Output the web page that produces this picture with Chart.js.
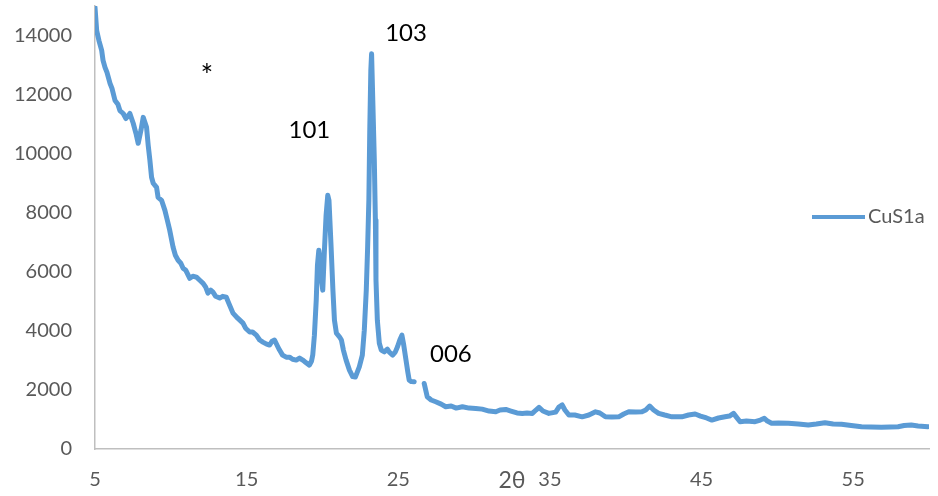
<!DOCTYPE html>
<html>
<head>
<meta charset="utf-8">
<script src="https://cdn.jsdelivr.net/npm/chart.js@4/dist/chart.umd.min.js"></script>
<style>
  html, body { margin: 0; padding: 0; background: #fff; }
  #wrap { width: 938px; height: 496px; }
</style>
</head>
<body>
<div id="wrap"><canvas id="xrd" width="938" height="496"></canvas></div>
<script>
// XRD pattern of sample CuS1a: diffraction angle (2θ, degrees) and intensity (counts)
const seriesName = 'CuS1a';
const twoTheta = [
  5.00, 5.11, 5.26, 5.44, 5.53, 5.66, 5.79, 5.99, 6.12, 6.32, 6.51, 6.64, 6.86, 7.04, 7.30, 7.52, 7.70, 7.85,
  8.03, 8.18, 8.40, 8.51, 8.62, 8.73, 8.84, 9.06, 9.16, 9.39, 9.61, 9.77, 9.93, 10.15, 10.30, 10.48, 10.66,
  10.81, 10.99, 11.25, 11.45, 11.69, 11.91, 12.13, 12.30, 12.45, 12.63, 12.78, 12.96, 13.22, 13.42, 13.66,
  13.82, 14.10, 14.41, 14.76, 14.93, 15.20, 15.39, 15.64, 15.86, 16.07, 16.32, 16.51, 16.68, 16.84, 17.04,
  17.17, 17.37, 17.61, 17.83, 18.03, 18.27, 18.49, 18.70, 18.88, 19.14, 19.28, 19.36, 19.47, 19.59, 19.67,
  19.76, 19.84, 19.90, 20.02, 20.13, 20.24, 20.35, 20.43, 20.57, 20.69, 20.79, 20.92, 21.12, 21.25, 21.38,
  21.56, 21.78, 21.99, 22.17, 22.43, 22.63, 22.76, 22.89, 22.98, 23.06, 23.12, 23.19, 23.24, 23.32, 23.42,
  23.49, 23.53, 23.62, 23.75, 23.88, 24.08, 24.28, 24.41, 24.63, 24.80, 24.95, 25.10, 25.24, 25.36, 25.51,
  25.63, 25.72, 25.86, 26.05, 26.30, 26.71, 26.91, 27.17, 27.47, 27.83, 28.13, 28.49, 28.82, 29.23, 29.67,
  30.11, 30.53, 30.99, 31.43, 31.71, 32.09, 32.43, 32.83, 33.18, 33.49, 33.84, 34.08, 34.28, 34.54, 34.93,
  35.38, 35.59, 35.81, 35.99, 36.25, 36.64, 37.13, 37.57, 38.01, 38.29, 38.66, 39.08, 39.54, 39.87, 40.20,
  40.66, 41.07, 41.32, 41.58, 41.84, 42.17, 42.57, 43.05, 43.70, 44.14, 44.58, 44.93, 45.33, 45.68, 46.12,
  46.55, 46.84, 47.11, 47.30, 47.54, 47.96, 48.53, 48.88, 49.14, 49.34, 49.62, 50.07, 50.72, 51.38, 52.04,
  52.57, 53.14, 53.68, 54.23, 54.87, 55.55, 56.18, 56.86, 57.43, 57.96, 58.36, 58.83, 59.28, 59.93
];
const intensity = [
  14950, 14170, 13830, 13500, 13160, 12920, 12750, 12380, 12210, 11800, 11670, 11460, 11360, 11190, 11360, 11030, 10690, 10350,
  10790, 11230, 10890, 10280, 9775, 9200, 9000, 8860, 8520, 8420, 8080, 7745, 7400, 6830, 6560, 6390, 6290,
  6120, 6050, 5780, 5850, 5820, 5715, 5610, 5480, 5280, 5380, 5310, 5170, 5110, 5170, 5140,
  4940, 4600, 4430, 4260, 4090, 3960, 3960, 3855, 3690, 3620, 3550, 3520, 3650, 3690, 3480,
  3350, 3180, 3110, 3110, 3040, 3010, 3080, 3010, 2940, 2840, 2980, 3180, 3855, 5040, 6220,
  6730, 6460, 5885, 5380, 6730, 7915, 8590, 8420, 6840, 5380, 4360, 3920, 3800, 3690, 3350,
  3010, 2670, 2450, 2435, 2780, 3180, 4025, 5380, 6840, 8420, 10790, 12820, 13380, 11800, 9775,
  7745, 5720, 4360, 3580, 3350, 3290, 3380, 3280, 3180, 3280, 3460, 3690, 3855, 3520, 3010,
  2600, 2330, 2285, 2275, null, 2220, 1770, 1660, 1600, 1520, 1430, 1455, 1385, 1430, 1385,
  1375, 1350, 1285, 1260, 1320, 1340, 1285, 1220, 1205, 1220, 1205, 1320, 1410, 1285, 1205,
  1250, 1420, 1490, 1320, 1150, 1150, 1090, 1150, 1260, 1220, 1090, 1080, 1090, 1185, 1260,
  1250, 1260, 1320, 1455, 1320, 1205, 1150, 1090, 1090, 1150, 1185, 1115, 1050, 980, 1050,
  1090, 1115, 1205, 1080, 925, 945, 925, 980, 1040, 945, 870, 880, 870, 845, 810,
  845, 890, 845, 835, 795, 755, 745, 735, 745, 755, 795, 810, 780, 755
];
const xTicks = [5, 15, 25, 35, 45, 55];
const yTicks = [0, 2000, 4000, 6000, 8000, 10000, 12000, 14000];
const peakNames = ['*', '101', '103', '006'];

const points = twoTheta.map((t, i) => ({ x: t, y: intensity[i] }));

const FONT = 'Lato, "Open Sans", sans-serif';
const GREY_TEXT = '#595959';
const AXIS_GREY = '#BFBFBF';
const LINE_BLUE = '#5B9BD5';

// where each reflection label sits (baseline centre), in (2θ, counts)
const peakLabelAnchors = [
  { x: 12.37, y: 12290, size: 30 },
  { x: 19.14, y: 10515, size: 24 },
  { x: 25.51, y: 13830, size: 24 },
  { x: 28.47, y: 2945, size: 24 }
];

const annotationsPlugin = {
  id: 'xrdAnnotations',
  afterDatasetsDraw(chart) {
    const { ctx, scales: { x, y } } = chart;
    ctx.save();
    ctx.fillStyle = '#000';
    ctx.textAlign = 'center';
    ctx.textBaseline = 'alphabetic';
    peakNames.forEach((name, i) => {
      const a = peakLabelAnchors[i];
      ctx.font = a.size + 'px ' + FONT;
      ctx.fillText(name, x.getPixelForValue(a.x), y.getPixelForValue(a.y));
    });

    // axis title 2θ, sitting in the tick label row
    ctx.fillStyle = GREY_TEXT;
    ctx.font = '23px ' + FONT;
    ctx.textBaseline = 'middle';
    ctx.fillText('2θ', x.getPixelForValue(32.5), 481);

    // legend entry on the right
    const ly = 217;
    ctx.strokeStyle = LINE_BLUE;
    ctx.lineWidth = 4;
    ctx.lineCap = 'butt';
    ctx.beginPath();
    ctx.moveTo(812, ly);
    ctx.lineTo(865, ly);
    ctx.stroke();
    ctx.fillStyle = GREY_TEXT;
    ctx.font = '20px ' + FONT;
    ctx.textAlign = 'left';
    ctx.fillText(chart.data.datasets[0].label, 868, ly);
    ctx.restore();
  }
};

new Chart(document.getElementById('xrd'), {
  type: 'line',
  data: {
    datasets: [{
      label: seriesName,
      data: points,
      borderColor: LINE_BLUE,
      backgroundColor: LINE_BLUE,
      borderWidth: 5,
      pointRadius: 0,
      tension: 0,
      spanGaps: false,
      borderJoinStyle: 'round',
      borderCapStyle: 'round'
    }]
  },
  options: {
    responsive: false,
    devicePixelRatio: 1,
    animation: false,
    layout: { padding: { left: 0, right: 9, top: 6, bottom: 0 } },
    plugins: {
      legend: { display: false },
      tooltip: { enabled: false }
    },
    scales: {
      x: {
        type: 'linear',
        min: 5,
        max: 60,
        afterBuildTicks(scale) { scale.ticks = xTicks.map(v => ({ value: v })); },
        afterFit(scale) {
          scale.height = 47;
          scale.paddingLeft = 0; scale.paddingRight = 0;
          scale.paddingTop = 0; scale.paddingBottom = 0;
        },
        grid: { display: false, drawTicks: false },
        border: { display: true, color: AXIS_GREY, width: 1.5 },
        ticks: {
          color: GREY_TEXT,
          font: { family: FONT, size: 20 },
          padding: 19,
          maxRotation: 0,
          autoSkip: false
        }
      },
      y: {
        type: 'linear',
        min: 0,
        max: 15000,
        afterBuildTicks(scale) { scale.ticks = yTicks.map(v => ({ value: v })); },
        afterFit(scale) {
          scale.width = 95;
          scale.paddingTop = 0; scale.paddingBottom = 0;
          scale.paddingLeft = 0; scale.paddingRight = 0;
        },
        grid: { display: false, drawTicks: false },
        border: { display: true, color: AXIS_GREY, width: 1.5 },
        ticks: {
          color: GREY_TEXT,
          font: { family: FONT, size: 20 },
          padding: 23,
          autoSkip: false,
          callback: v => String(v)
        }
      }
    }
  },
  plugins: [annotationsPlugin]
});
</script>
</body>
</html>
